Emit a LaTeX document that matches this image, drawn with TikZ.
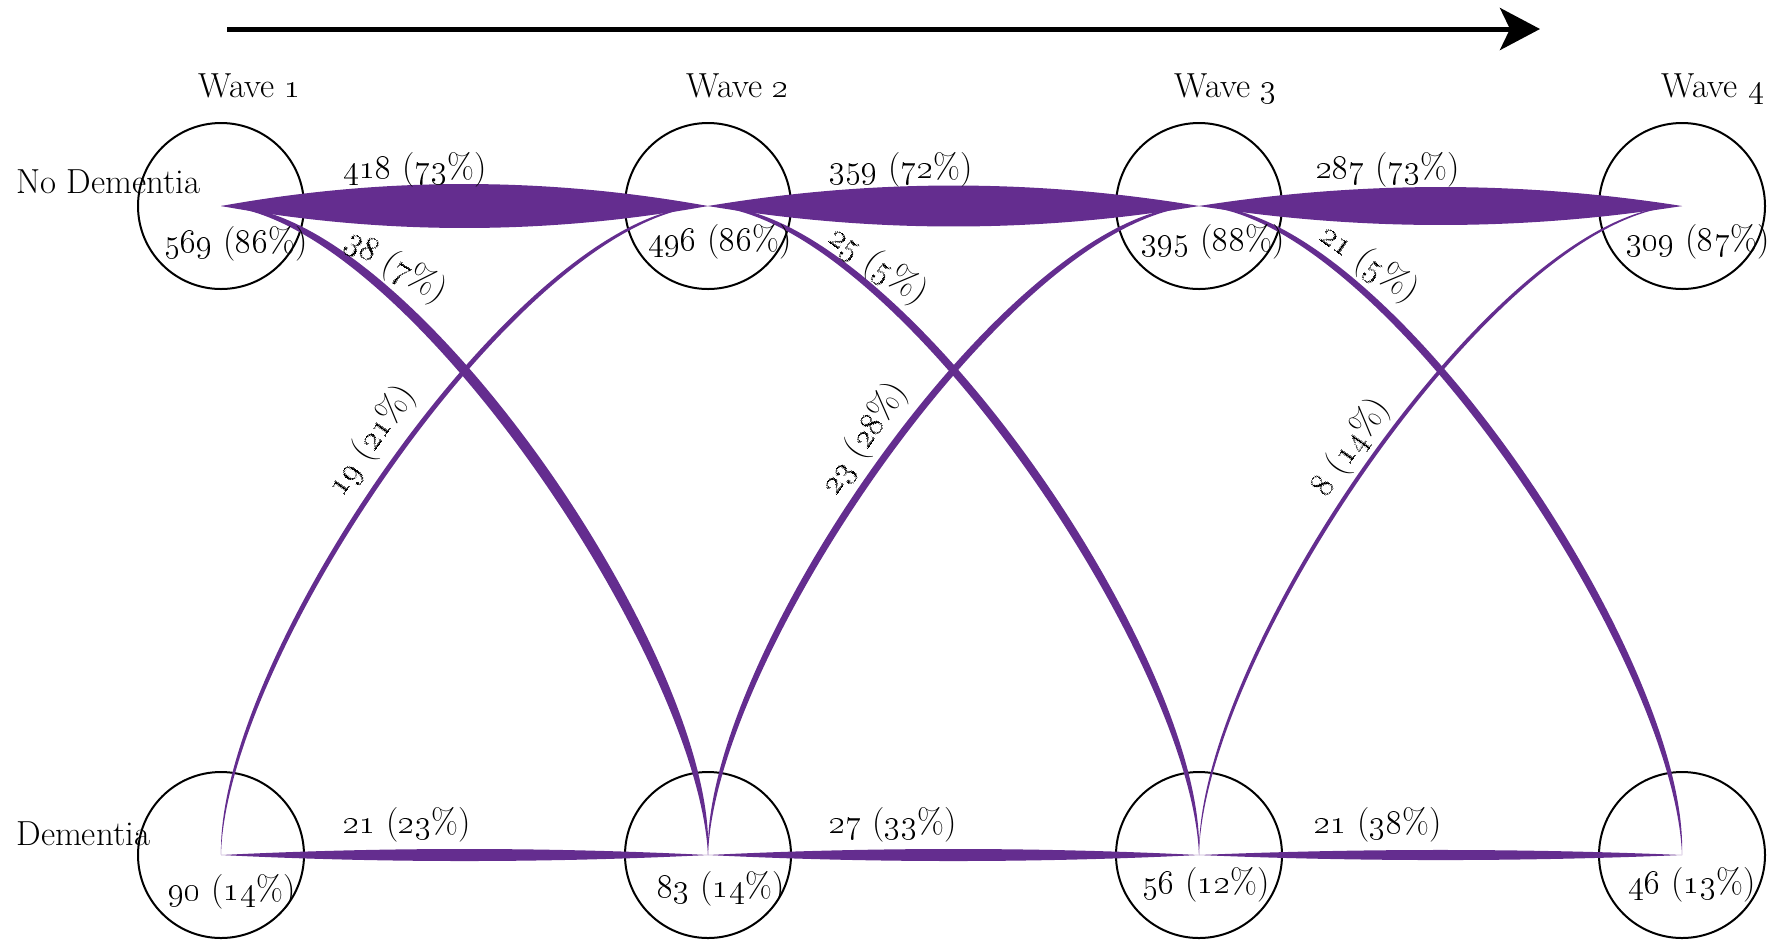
\documentclass[tikz,border=0pt]{standalone}
\usetikzlibrary{calc,arrows.meta}
\definecolor{flowpurple}{RGB}{100,45,143}
\newcommand\osn[1]{\oldstylenums{#1}}
% tapered ribbon: start, control 1, control 2, end, offset at control 1, offset at control 2
\newcommand\ribbon[6]{%
  \fill[flow] (#1) .. controls ($(#2)+(#5)$) and ($(#3)+(#6)$) .. (#4)
    .. controls ($(#3)-(#6)$) and ($(#2)-(#5)$) .. (#1) -- cycle;}
\begin{document}
\begin{tikzpicture}[x=0.5pt,y=-0.5pt,
  every node/.style={font=\fontsize{17.4}{20}\selectfont, inner sep=0pt},
  state/.style={circle,draw=black,line width=1pt,minimum size=83pt},
  flow/.style={fill=flowpurple},
  lbl/.style={anchor=base},
  tilted/.style={anchor=center}]
\useasboundingbox (0,0) rectangle (1782,939);

% time arrow
\coordinate (arrS) at (227,29);
\coordinate (arrE) at (1540,29);
\draw[line width=2.5pt,-{Stealth[length=20pt,width=21pt,inset=5pt]}] (arrS) -- (arrE);

% states
\node[state] (t1) at (221,206) {};
\node[state] (t2) at (708,206) {};
\node[state] (t3) at (1199,206) {};
\node[state] (t4) at (1682,206) {};
\node[state] (b1) at (221,855) {};
\node[state] (b2) at (708,855) {};
\node[state] (b3) at (1199,855) {};
\node[state] (b4) at (1682,855) {};

% control points of the curved flows
\coordinate (d1a) at ($(t1.center)+(180,0)$);
\coordinate (d1b) at ($(b2.center)+(0,-199)$);
\coordinate (d2a) at ($(t2.center)+(182,0)$);
\coordinate (d2b) at ($(b3.center)+(0,-199)$);
\coordinate (d3a) at ($(t3.center)+(179,0)$);
\coordinate (d3b) at ($(b4.center)+(0,-199)$);
\coordinate (u1a) at ($(b1.center)+(0,-199)$);
\coordinate (u1b) at ($(t2.center)+(-180,0)$);
\coordinate (u2a) at ($(b2.center)+(0,-199)$);
\coordinate (u2b) at ($(t3.center)+(-182,0)$);
\coordinate (u3a) at ($(b3.center)+(0,-199)$);
\coordinate (u3b) at ($(t4.center)+(-179,0)$);

% control points of the straight flows
\foreach \a/\b in {t1/t2,t2/t3,t3/t4,b1/b2,b2/b3,b3/b4}{
  \coordinate (\a\b p) at ($(\a.center)!1/3!(\b.center)$);
  \coordinate (\a\b q) at ($(\a.center)!2/3!(\b.center)$);
}

% no dementia -> no dementia
\ribbon{t1.center}{t1t2p}{t1t2q}{t2.center}{0,-29.3}{0,-29.3}
\ribbon{t2.center}{t2t3p}{t2t3q}{t3.center}{0,-27.3}{0,-27.3}
\ribbon{t3.center}{t3t4p}{t3t4q}{t4.center}{0,-25.3}{0,-25.3}
% dementia -> dementia
\ribbon{b1.center}{b1b2p}{b1b2q}{b2.center}{0,-8}{0,-8}
\ribbon{b2.center}{b2b3p}{b2b3q}{b3.center}{0,-8}{0,-8}
\ribbon{b3.center}{b3b4p}{b3b4q}{b4.center}{0,-6.7}{0,-6.7}
% no dementia -> dementia
\ribbon{t1.center}{d1a}{d1b}{b2.center}{0,-10}{10,0}
\ribbon{t2.center}{d2a}{d2b}{b3.center}{0,-7.8}{7.8,0}
\ribbon{t3.center}{d3a}{d3b}{b4.center}{0,-7.5}{7.5,0}
% dementia -> no dementia
\ribbon{b1.center}{u1a}{u1b}{t2.center}{-4.7,0}{0,-4.7}
\ribbon{b2.center}{u2a}{u2b}{t3.center}{-6.6,0}{0,-6.6}
\ribbon{b3.center}{u3a}{u3b}{t4.center}{-3.8,0}{0,-3.8}

% headings
\node[lbl] (w1) at (250,97) {Wave \osn{1}};
\node[lbl] (w2) at (738,97) {Wave \osn{2}};
\node[lbl] (w3) at (1226,97) {Wave \osn{3}};
\node[lbl] (w4) at (1713,97) {Wave \osn{4}};
\node[anchor=base west] (rowA) at (16,193) {No Dementia};
\node[anchor=base west] (rowB) at (16,845) {Dementia};

% state counts
\node[lbl] (n1) at (236,252) {\osn{569} (\osn{86}\%)};
\node[lbl] (n2) at (720,250) {\osn{496} (\osn{86}\%)};
\node[lbl] (n3) at (1213,250) {\osn{395} (\osn{88}\%)};
\node[lbl] (n4) at (1698,250) {\osn{309} (\osn{87}\%)};
\node[lbl] (m1) at (232,900) {\osn{90} (\osn{14}\%)};
\node[lbl] (m2) at (721,897) {\osn{83} (\osn{14}\%)};
\node[lbl] (m3) at (1206,893) {\osn{56} (\osn{12}\%)};
\node[lbl] (m4) at (1692,893) {\osn{46} (\osn{13}\%)};

% flow counts
\node[lbl] (f1) at (415,178) {\osn{418} (\osn{73}\%)};
\node[lbl] (f2) at (901,178) {\osn{359} (\osn{72}\%)};
\node[lbl] (f3) at (1388,178) {\osn{287} (\osn{73}\%)};
\node[lbl] (g1) at (407,833) {\osn{21} (\osn{23}\%)};
\node[lbl] (g2) at (893,833) {\osn{27} (\osn{33}\%)};
\node[lbl] (g3) at (1378,833) {\osn{21} (\osn{38}\%)};
\node[tilted,rotate=-31] (k1) at (396,267) {\osn{38} (\osn{7}\%)};
\node[tilted,rotate=-35] (k2) at (878,266) {\osn{25} (\osn{5}\%)};
\node[tilted,rotate=-35] (k3) at (1369,264) {\osn{21} (\osn{5}\%)};
\node[tilted,rotate=55] (r1) at (372,441) {\osn{19} (\osn{21}\%)};
\node[tilted,rotate=56] (r2) at (865,439) {\osn{23} (\osn{28}\%)};
\node[tilted,rotate=55] (r3) at (1351,448) {\osn{8} (\osn{14}\%)};
\end{tikzpicture}
\end{document}
